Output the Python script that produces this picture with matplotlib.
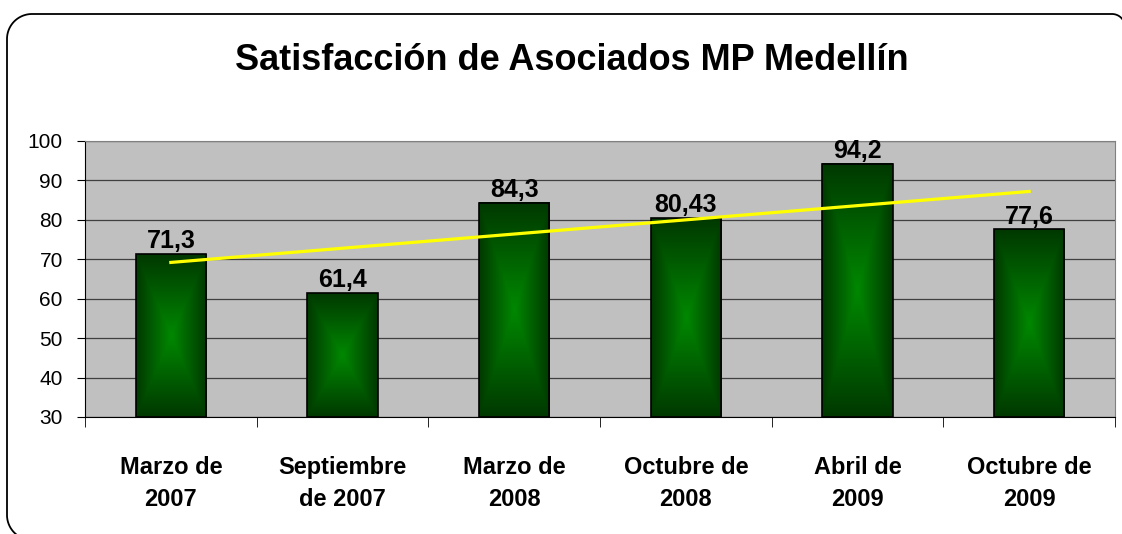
import numpy as np
import matplotlib
matplotlib.use('Agg')
import matplotlib.pyplot as plt
from matplotlib.patches import Rectangle
from matplotlib.lines import Line2D

plt.rcParams['font.family'] = ['Liberation Sans', 'DejaVu Sans']

# 数据
categories = ['Marzo de\n2007', 'Septiembre\nde 2007', 'Marzo de\n2008',
              'Octubre de\n2008', 'Abril de\n2009', 'Octubre de\n2009']
values = [71.3, 61.4, 84.3, 80.43, 94.2, 77.6]
value_labels = ['71,3', '61,4', '84,3', '80,43', '94,2', '77,6']
title = 'Satisfacción de Asociados MP Medellín'

W, H = 1122, 534
fig = plt.figure(figsize=(W / 100, H / 100), dpi=100)
fig.patch.set_facecolor('white')

# 圆角外框 (像素坐标, 上为0)
def arc(cx, cy, r, a0, a1):
    a = np.radians(np.linspace(a0, a1, 30))
    return cx + r * np.cos(a), cy - r * np.sin(a)

r1, r2 = 25, 13
bx, by = arc(7 + r1, 515, r1, 270, 180)
ax1, ay1 = arc(7 + r1, 14 + r1, r1, 180, 90)
ax2, ay2 = arc(1112, 14 + r2, r2, 90, 0)
px = np.concatenate([[60], bx, ax1, ax2, [1125]])
py = np.concatenate([[540], by, ay1, ay2, [560]])
fig.add_artist(Line2D(px / W, 1 - py / H, transform=fig.transFigure,
                      color='black', linewidth=1.3))

ax = fig.add_axes([85 / W, 1 - 417 / H, (1115 - 85) / W, (417 - 141) / H])
ax.set_facecolor('#C0C0C0')

x = np.arange(len(values))
bar_w = 0.41
ymin = 30

# 渐变色 (中心亮, 边缘暗)
n = 200
u = np.linspace(-1, 1, n)
uu, vv = np.meshgrid(u, u)
t = np.maximum(np.abs(uu), np.abs(vv))
center = np.array([0x00, 0x88, 0x00]) / 255
edge = np.array([0x00, 0x38, 0x00]) / 255
grad = center[None, None, :] * (1 - t[..., None]) + edge[None, None, :] * t[..., None]

for xi, v, lab in zip(x, values, value_labels):
    left = xi - bar_w / 2
    ax.imshow(grad, extent=[left, left + bar_w, ymin, v], aspect='auto',
              interpolation='bilinear', zorder=2)
    ax.add_patch(Rectangle((left, ymin), bar_w, v - ymin, facecolor='none',
                           edgecolor='black', linewidth=1.2, zorder=3))
    ax.text(xi, v + 0.2, lab, ha='center', va='bottom', fontsize=18,
            fontweight='bold', zorder=5)

# 线性趋势线
k, b = np.polyfit(x + 1, values, 1)
ax.plot(x, k * (x + 1) + b, color='#FFFF00', linewidth=2.3, zorder=4)

ax.set_xlim(-0.5, len(values) - 0.5)
ax.set_ylim(30, 100)
ax.set_yticks(np.arange(30, 101, 10))
ax.yaxis.grid(True, color='#404040', linewidth=0.9)
ax.set_axisbelow(True)
ax.tick_params(axis='y', labelsize=15, length=6, direction='out', pad=10)

ax.set_xticks(x)
ax.set_xticklabels(categories, fontsize=17, fontweight='bold', linespacing=1.5)
ax.tick_params(axis='x', which='major', length=0, pad=28)
ax.set_xticks(np.arange(-0.5, len(values), 1), minor=True)
ax.tick_params(axis='x', which='minor', length=7, direction='out')

for s in ['top', 'right']:
    ax.spines[s].set_color('#808080')
for s in ['left', 'bottom']:
    ax.spines[s].set_color('black')

fig.text(572 / W, 1 - 60 / H, title, ha='center', va='center', fontsize=26,
         fontweight='bold')

fig.savefig('out.png', dpi=100)
